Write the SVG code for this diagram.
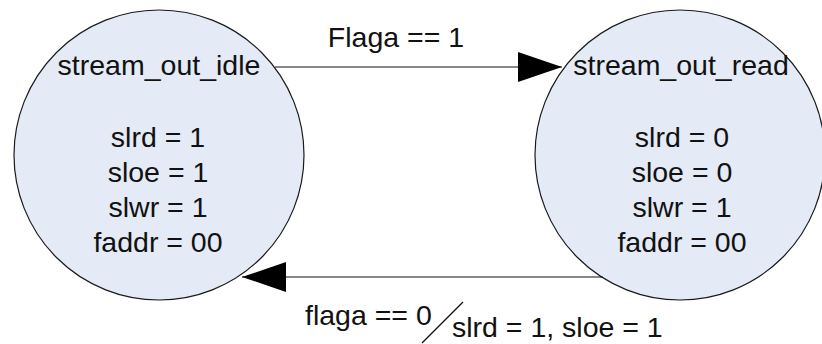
<svg xmlns="http://www.w3.org/2000/svg" width="822" height="344" viewBox="0 0 822 344">
  <style>
    .state { fill: #E4EBF6; stroke: #1a1a1a; stroke-width: 1.2; }
    .txt { font-family: "Liberation Sans", Arial, sans-serif; font-size: 28.5px; fill: #111; }
    .mid { text-anchor: middle; }
    .edge { stroke: #111; stroke-width: 1.2; fill: none; }
  </style>
  <defs>
    <marker id="arrow" viewBox="0 0 44 30" refX="44" refY="15" markerWidth="44" markerHeight="30" markerUnits="userSpaceOnUse" orient="auto">
      <path d="M0,0 L44,15 L0,30 Z" fill="#000"/>
    </marker>
  </defs>
  <rect width="822" height="344" fill="#fff"/>

  <g id="stream_out_idle">
    <circle class="state" cx="159" cy="155" r="145"/>
    <text class="txt mid" x="159" y="75">stream_out_idle</text>
    <text class="txt mid" x="158" y="147">slrd = 1</text>
    <text class="txt mid" x="158" y="182">sloe = 1</text>
    <text class="txt mid" x="158" y="217">slwr = 1</text>
    <text class="txt mid" x="158" y="252">faddr = 00</text>
  </g>

  <g id="stream_out_read">
    <circle class="state" cx="680" cy="155" r="145"/>
    <text class="txt mid" x="681" y="75">stream_out_read</text>
    <text class="txt mid" x="682" y="147">slrd = 0</text>
    <text class="txt mid" x="682" y="182">sloe = 0</text>
    <text class="txt mid" x="682" y="217">slwr = 1</text>
    <text class="txt mid" x="682" y="252">faddr = 00</text>
  </g>

  <g id="connectors">
    <line class="edge" x1="275" y1="67" x2="562" y2="67" marker-end="url(#arrow)"/>
    <text class="txt mid" x="396" y="47">Flaga == 1</text>

    <line class="edge" x1="603" y1="277" x2="242" y2="277" marker-end="url(#arrow)"/>
    <text class="txt" x="305" y="325">flaga == 0</text>
    <line class="edge" x1="422" y1="343" x2="463" y2="302"/>
    <text class="txt" x="452" y="337">slrd = 1, sloe = 1</text>
  </g>
</svg>
